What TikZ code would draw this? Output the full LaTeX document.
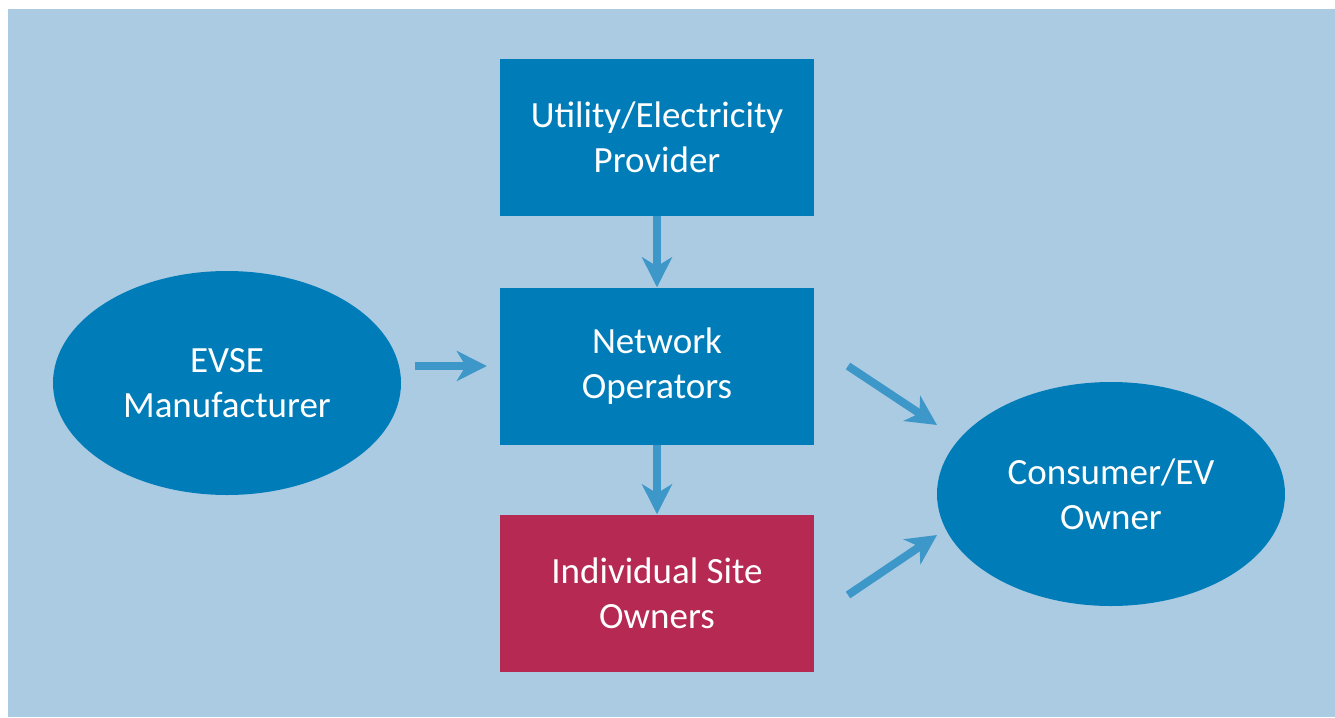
\documentclass[tikz,border=0pt]{standalone}
\usepackage{fontspec}
\setmainfont{Carlito}
\usetikzlibrary{arrows.meta,shapes.geometric}
\definecolor{bgblue}{RGB}{171,203,227}
\definecolor{boxblue}{RGB}{0,125,184}
\definecolor{maroon}{RGB}{181,41,83}
\definecolor{arrblue}{RGB}{61,151,200}
\tikzset{
  txt/.style={text=white,font=\fontsize{37}{45}\selectfont,align=center},
  rbox/.style={txt,rectangle,fill=boxblue,minimum width=314pt,minimum height=157pt,inner sep=0pt},
  ell/.style={txt,ellipse,fill=boxblue,minimum width=348pt,minimum height=224pt,inner sep=0pt},
  arr/.style={draw=arrblue,line width=8pt,-{Stealth[length=30pt,width=30pt,inset=9pt]}}
}
\begin{document}
\begin{tikzpicture}[x=1pt,y=-1pt]
\useasboundingbox (0,0) rectangle (1335,717);
\fill[bgblue] (8,9) rectangle (1335,717);
\node[rbox] (util) at (657,137.5) {Utility/Electricity\\Provider};
\node[rbox] (net) at (657,366) {Network\\Operators};
\node[rbox,fill=maroon] (site) at (657,593) {Individual Site\\Owners};
\node[ell] (evse) at (227,383) {EVSE\\Manufacturer};
\node[ell] (cons) at (1111,494) {Consumer/EV\\Owner};
\coordinate (a1s) at (848,366);
\coordinate (a1e) at (937,425);
\coordinate (a2s) at (848,595);
\coordinate (a2e) at (937,535);
\draw[arr] (util.south) -- (net.north);
\draw[arr] (net.south) -- (site.north);
\draw[arr,shorten <=14pt,shorten >=13pt] (evse.east |- net.west) -- (net.west);
\draw[arr] (a1s) -- (a1e);
\draw[arr] (a2s) -- (a2e);
\end{tikzpicture}
\end{document}
